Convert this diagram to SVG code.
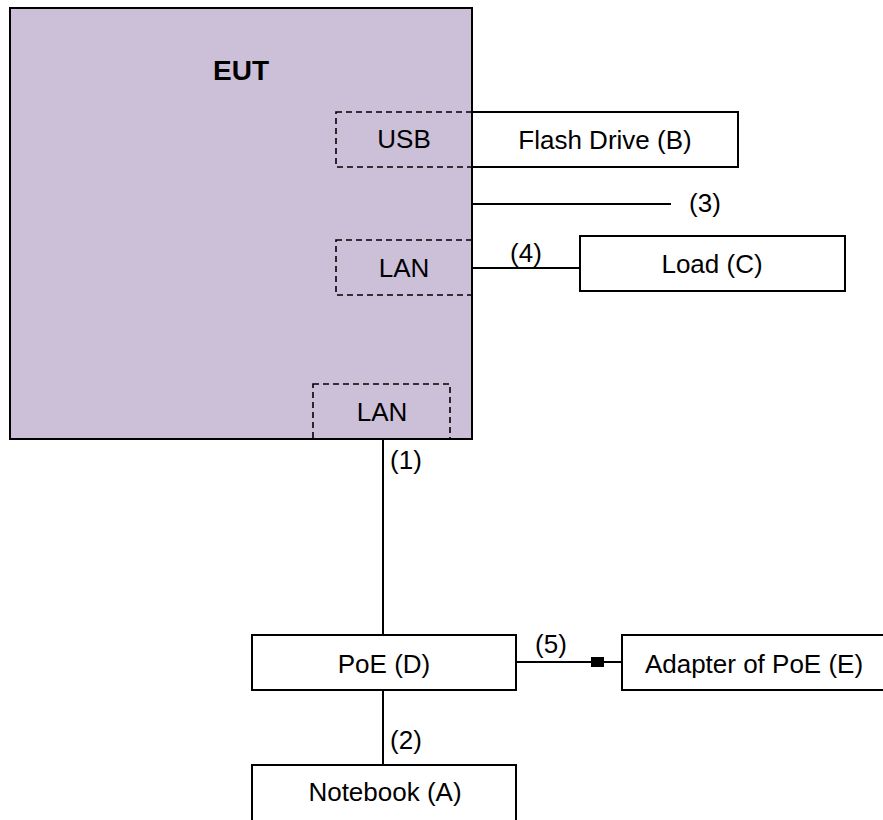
<svg xmlns="http://www.w3.org/2000/svg" width="883" height="820" viewBox="0 0 883 820">
<style>
  text { font-family: "Liberation Sans", Arial, sans-serif; font-size: 26px; fill: #000; text-anchor: middle; }
  .bold { font-weight: bold; font-size: 28px; }
  .box { fill: #fff; stroke: #000; stroke-width: 2; }
  .port { fill: none; stroke: #000; stroke-width: 1.6; stroke-dasharray: 6 4; }
  .wire { stroke: #000; stroke-width: 2; fill: none; }
</style>
<rect width="883" height="820" fill="#fff"/>
<g id="eut">
  <rect x="10" y="8" width="462" height="431" fill="#ccbfd8" stroke="#000" stroke-width="2"/>
  <text class="bold" x="241" y="80">EUT</text>
</g>
<g id="usb-port">
  <rect class="port" x="336" y="112" width="136" height="55"/>
  <text x="404" y="148">USB</text>
</g>
<g id="lan-port-1">
  <rect class="port" x="336" y="240" width="136" height="55"/>
  <text x="404" y="277">LAN</text>
</g>
<g id="lan-port-2">
  <rect class="port" x="313" y="384" width="137" height="55"/>
  <text x="382" y="421">LAN</text>
</g>
<g id="flash-drive">
  <rect class="box" x="472" y="112" width="266" height="55"/>
  <text x="605" y="149">Flash Drive (B)</text>
</g>
<g id="load">
  <rect class="box" x="580" y="236" width="265" height="55"/>
  <text x="712" y="273">Load (C)</text>
</g>
<g id="poe">
  <rect class="box" x="252" y="635" width="264" height="55"/>
  <text x="384" y="673">PoE (D)</text>
</g>
<g id="adapter">
  <rect class="box" x="622" y="635" width="270" height="55"/>
  <text x="754" y="673">Adapter of PoE (E)</text>
</g>
<g id="notebook">
  <rect class="box" x="252" y="765" width="264" height="70"/>
  <text x="385" y="801">Notebook (A)</text>
</g>
<g id="connectors">
  <line class="wire" x1="472" y1="204" x2="671" y2="204"/>
  <text x="705" y="212">(3)</text>
  <line class="wire" x1="472" y1="268" x2="580" y2="268"/>
  <text x="526" y="262">(4)</text>
  <line class="wire" x1="383" y1="439" x2="383" y2="635"/>
  <text x="406" y="469">(1)</text>
  <line class="wire" x1="383" y1="690" x2="383" y2="765"/>
  <text x="406" y="749">(2)</text>
  <line class="wire" x1="516" y1="662" x2="622" y2="662"/>
  <rect x="591" y="657" width="13" height="10" fill="#000"/>
  <text x="551" y="653">(5)</text>
</g>
</svg>
